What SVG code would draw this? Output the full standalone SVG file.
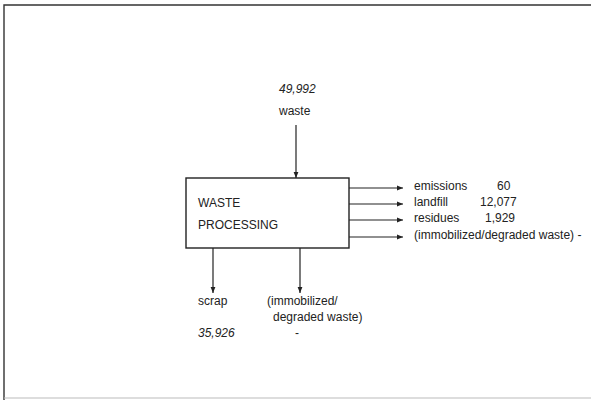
<svg xmlns="http://www.w3.org/2000/svg" width="591" height="408" viewBox="0 0 591 408">
<style>
text{font-family:"Liberation Sans",Arial,sans-serif;font-size:12px;fill:#222}
.it{font-style:italic}
.ln{stroke:#222;stroke-width:1.2;fill:none}
.box{stroke:#222;stroke-width:1.4;fill:#fff}
</style>
<defs>
<marker id="ah" viewBox="0 0 10 10" refX="10" refY="5" markerWidth="9" markerHeight="6" markerUnits="userSpaceOnUse" orient="auto">
<path d="M0,1 L10,5 L0,9 Z" fill="#222"/>
</marker>
</defs>
<rect width="591" height="408" fill="#fff"/>
<g id="frame">
<path d="M4,400 V5 H591" stroke="#333" stroke-width="1.4" fill="none"/>
<path d="M4,398 H591" stroke="#bbb" stroke-width="1" fill="none"/>
</g>
<g id="connectors">
<line class="ln" x1="296" y1="125" x2="296" y2="178" marker-end="url(#ah)"/>
<line class="ln" x1="349" y1="188" x2="403" y2="188" marker-end="url(#ah)"/>
<line class="ln" x1="349" y1="204" x2="403" y2="204" marker-end="url(#ah)"/>
<line class="ln" x1="349" y1="220" x2="403" y2="220" marker-end="url(#ah)"/>
<line class="ln" x1="349" y1="237" x2="403" y2="237" marker-end="url(#ah)"/>
<line class="ln" x1="213" y1="248" x2="213" y2="293" marker-end="url(#ah)"/>
<line class="ln" x1="300" y1="248" x2="300" y2="293" marker-end="url(#ah)"/>
</g>
<g id="waste-processing">
<rect class="box" x="186" y="178" width="163" height="70"/>
<text x="198" y="207">WASTE</text>
<text x="198" y="229">PROCESSING</text>
</g>
<g id="input-waste">
<text class="it" x="279" y="93">49,992</text>
<text x="279" y="115">waste</text>
</g>
<g id="out-emissions">
<text x="414" y="190">emissions</text>
<text x="497" y="190">60</text>
</g>
<g id="out-landfill">
<text x="414" y="206">landfill</text>
<text x="480" y="206">12,077</text>
</g>
<g id="out-residues">
<text x="414" y="222">residues</text>
<text x="485" y="222">1,929</text>
</g>
<g id="out-immobilized-right">
<text x="414" y="239">(immobilized/degraded waste) -</text>
</g>
<g id="out-scrap">
<text x="198" y="305">scrap</text>
<text class="it" x="198" y="337">35,926</text>
</g>
<g id="out-immobilized-bottom">
<text x="267" y="305">(immobilized/</text>
<text x="273" y="321">degraded waste)</text>
<text x="295" y="337">-</text>
</g>
</svg>
